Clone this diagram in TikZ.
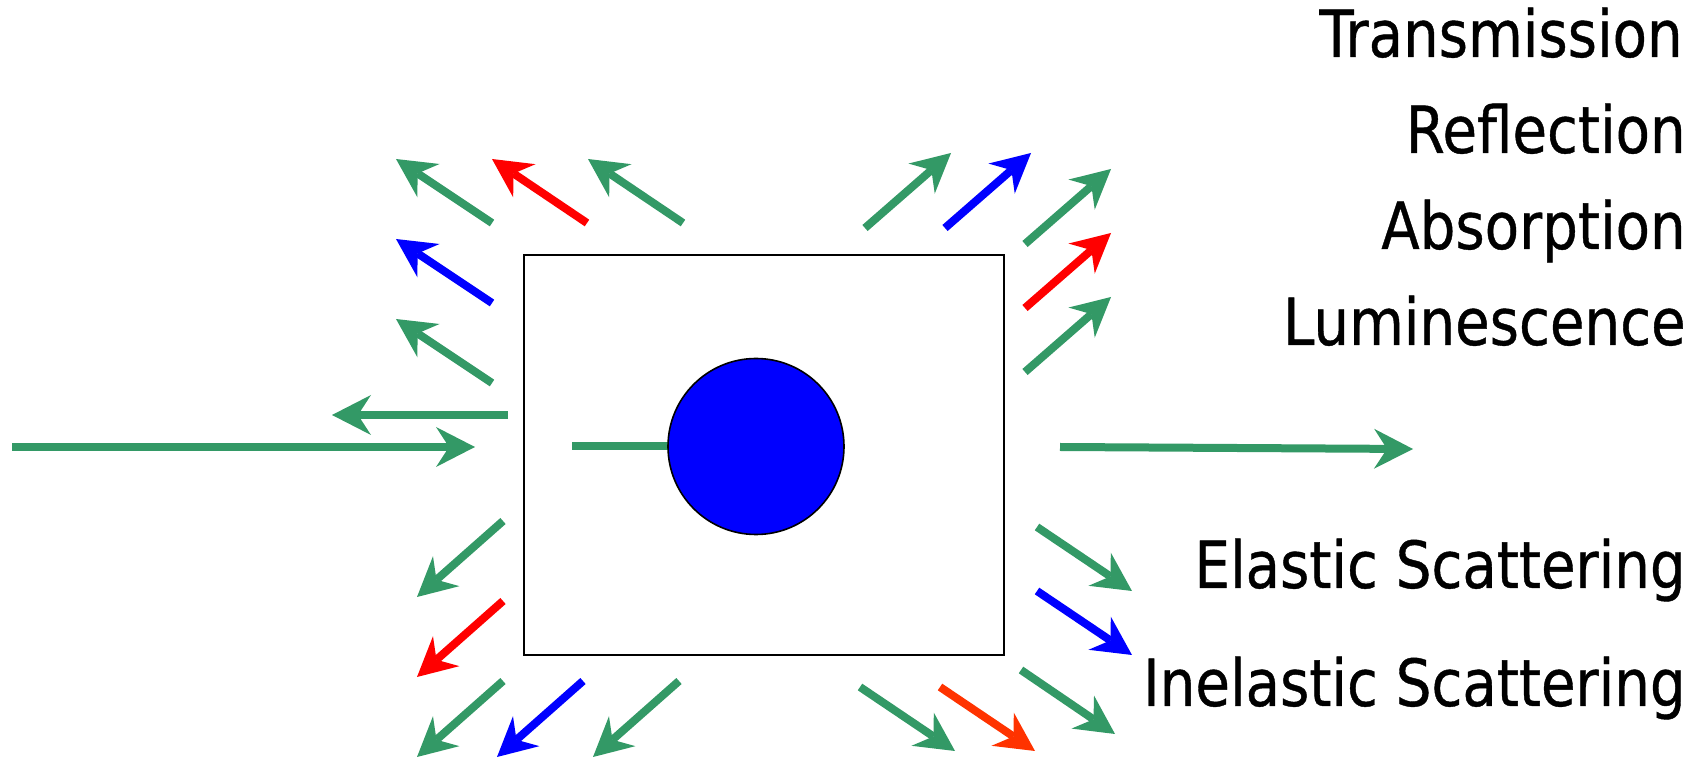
\documentclass[tikz,border=0pt]{standalone}
\usepackage{fontspec}
\newfontfamily\labfont[FakeStretch=0.865, FakeBold=0.6]{DejaVu Sans}
\usetikzlibrary{arrows.meta}
\definecolor{sgreen}{HTML}{339966}
\definecolor{sred}{HTML}{FF0000}
\definecolor{sblue}{HTML}{0000FF}
\definecolor{sorange}{HTML}{FF3300}
\tikzset{
  ray/.style={line width=4pt, line cap=butt,
    -{Stealth[length=19.5pt, width=20pt, inset=6.5pt, line width=0pt]}},
  plainray/.style={line width=4pt, line cap=butt},
  lab/.style={anchor=base east, inner sep=0pt, font=\labfont\fontsize{32.5pt}{38pt}\selectfont},
}
\begin{document}
\begin{tikzpicture}[x=0.5pt, y=-0.5pt]
\useasboundingbox (0,0) rectangle (1699,758);
% sample box and particle
\node[draw, line width=1pt, minimum width=240pt, minimum height=200pt, inner sep=0pt] (box) at (764,455) {};
\coordinate (in0) at (572,446.5);
\coordinate (in1) at (668,446.5);
\draw[plainray, sgreen] (in0) -- (in1);
\node[circle, draw, fill=sblue, line width=0.8pt, minimum size=88pt, inner sep=0pt] (dot) at (756,446.5) {};
% incoming and transmitted
\coordinate (src) at (12,447);   \coordinate (hit) at (475,447);
\draw[ray, sgreen] (src) -- (hit);
\coordinate (t0) at (1060,447);  \coordinate (t1) at (1413,449);
\draw[ray, sgreen] (t0) -- (t1);
% reflected
\coordinate (r0) at (508,415);   \coordinate (r1) at (332,415);
\draw[ray, sgreen] (r0) -- (r1);
% scattered rays
\foreach \n/\ax/\ay/\bx/\by/\c in {
  a/492/223/396/159/sgreen, b/587/223/492/159/sred, c/683/223/588/159/sgreen,
  d/492/303/396/239/sblue, e/492/383/396/319/sgreen,
  f/865/228/951/153/sgreen, g/945/228/1031/153/sblue, h/1025/244/1111/169/sgreen,
  i/1025/308/1111/233/sred, j/1025/372/1111/297/sgreen,
  k/503/521/417/597/sgreen, l/503/601/417/677/sred, m/503/681/417/757/sgreen,
  o/583/681/497/757/sblue, p/679/681/593/757/sgreen,
  q/1037/527/1132/591/sgreen, r/1037/591/1132/655/sblue,
  s/860/687/955/751/sgreen, u/940/687/1035/751/sorange, v/1021/670/1115/734/sgreen}
{
  \coordinate (\n0) at (\ax,\ay);
  \coordinate (\n1) at (\bx,\by);
  \draw[ray, \c] (\n0) -- (\n1);
}
% labels
\node[lab] (lt) at (1683,57) {Transmission};
\node[lab] (lr) at (1686,153) {Reflection};
\node[lab] (la) at (1686,249) {Absorption};
\node[lab] (ll) at (1686,345) {Luminescence};
\node[lab] (le) at (1686,588) {Elastic Scattering};
\node[lab] (li) at (1686,706) {Inelastic Scattering};
\end{tikzpicture}
\end{document}
